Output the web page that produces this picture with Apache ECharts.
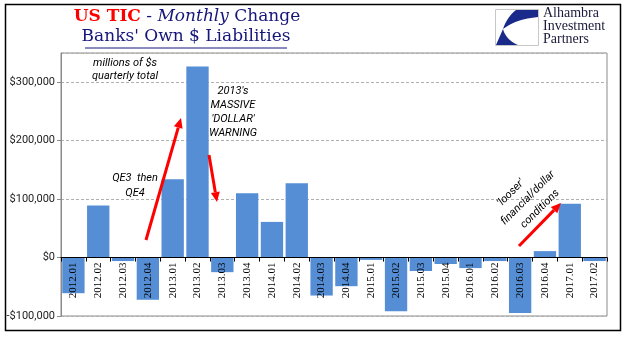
<!DOCTYPE html>
<html>
<head>
<meta charset="utf-8">
<script src="https://cdn.jsdelivr.net/npm/echarts@6/dist/echarts.min.js"></script>
<style>html,body{margin:0;padding:0;background:#fff}#c{width:641px;height:341px}</style>
</head>
<body>
<div id="c"></div>
<script>
const categories = ['2012.01','2012.02','2012.03','2012.04','2013.01','2013.02','2013.03','2013.04','2014.01','2014.02','2014.03','2014.04','2015.01','2015.02','2015.03','2015.04','2016.01','2016.02','2016.03','2016.04','2017.01','2017.02'];
const values = [-61000, 89000, -6000, -72000, 134000, 327000, -25000, 110000, 61000, 127000, -65000, -49000, -4000, -92000, -23000, -11000, -18000, -6000, -95000, 11000, 92000, -6000];
const yTicks = [-100000, 0, 100000, 200000, 300000];
const yMin = -100000, yMax = 350000;

const navy = '#16167a';
const gridTop = 53, gridBottom = 25, H = 341;
const plotH = H - gridTop - gridBottom;
const zeroOffset = -(0 - yMin) / (yMax - yMin) * plotH;

function arrow(x1, y1, x2, y2) {
  const dx = x2 - x1, dy = y2 - y1, L = Math.sqrt(dx*dx + dy*dy);
  const ux = dx / L, uy = dy / L, hl = 10, hw = 4.5;
  const bx = x2 - ux * hl, by = y2 - uy * hl;
  return [
    {type: 'line', shape: {x1: x1, y1: y1, x2: bx, y2: by}, style: {stroke: '#ff0000', lineWidth: 3}, z: 20},
    {type: 'polygon', shape: {points: [[x2, y2], [bx - uy * hw, by + ux * hw], [bx + uy * hw, by - ux * hw]]}, style: {fill: '#ff0000'}, z: 20}
  ];
}
function quad(p0, c, p1, n) {
  const pts = [];
  for (let i = 1; i <= n; i++) {
    const t = i / n, a = (1 - t) * (1 - t), b = 2 * (1 - t) * t, d = t * t;
    pts.push([a * p0[0] + b * c[0] + d * p1[0], a * p0[1] + b * c[1] + d * p1[1]]);
  }
  return pts;
}
const logoUpper = [[516, 10], [538, 10], [538, 17]].concat(quad([538, 17], [516, 19], [503, 29], 12), quad([503, 29], [507, 17], [516, 10], 8));
const logoLower = [[503, 29], [496, 45], [518, 45]].concat(quad([518, 45], [506, 40], [503, 29], 10));

const annFont = 'italic 11px Roboto, sans-serif';
function txt(x, y, s) {
  return {type: 'text', x: x, y: y, style: {text: s, font: annFont, fill: '#000', align: 'center', verticalAlign: 'middle'}, z: 20};
}
function rtxt(x, y, s) {
  return {type: 'text', x: x, y: y, rotation: Math.PI / 4, style: {text: s, font: annFont, fill: '#000', align: 'center', verticalAlign: 'middle'}, z: 20};
}

const chart = echarts.init(document.getElementById('c'), null, {renderer: 'canvas'});
chart.setOption({
  animation: false,
  backgroundColor: '#fff',
  grid: {left: 61, right: 34, top: gridTop, bottom: gridBottom, show: true, borderColor: '#8a8a8a', borderWidth: 1, containLabel: false, outerBoundsMode: 'none'},
  xAxis: {
    type: 'category', data: categories, z: 5, position: 'bottom', offset: zeroOffset,
    axisLine: {onZero: false, lineStyle: {color: '#000', width: 1}},
    axisTick: {show: true, interval: 0, length: 4, lineStyle: {color: '#000'}},
    axisLabel: {rotate: 90, interval: 0, margin: 5, fontFamily: 'Liberation Serif', fontSize: 11, color: '#000'}
  },
  yAxis: {
    type: 'value', min: yMin, max: yMax, interval: 100000,
    axisLine: {show: true, onZero: false, lineStyle: {color: '#8a8a8a'}},
    axisTick: {show: true, length: 4, lineStyle: {color: '#8a8a8a'}},
    axisLabel: {showMaxLabel: false, margin: 6, fontFamily: 'Roboto', fontSize: 11, color: '#222',
      formatter: function (v) { if (yTicks.indexOf(v) < 0) return ''; const s = '$' + Math.abs(v).toLocaleString('en-US'); return v < 0 ? '-' + s : s; }},
    splitLine: {show: true, lineStyle: {color: '#b0b0b0', type: [3, 2], width: 1}}
  },
  series: [{type: 'bar', data: values, barCategoryGap: '10%', itemStyle: {color: '#558ed5'}}],
  graphic: [
    {type: 'rect', shape: {x: 5.5, y: 4.5, width: 615, height: 326}, style: {fill: 'none', stroke: '#000', lineWidth: 1.5}, z: 30},
    {type: 'text', x: 187, y: 25, style: {
      text: '{r|US TIC}{n| - }{i|Monthly}{n| Change}', align: 'center', verticalAlign: 'bottom',
      rich: {
        r: {fontFamily: 'DejaVu Serif', fontSize: 17, fontWeight: 'bold', fill: '#ff0000'},
        n: {fontFamily: 'DejaVu Serif', fontSize: 17, fill: navy},
        i: {fontFamily: 'DejaVu Serif', fontSize: 17, fontStyle: 'italic', fill: navy}
      }}, z: 20},
    {type: 'text', x: 186, y: 45, style: {text: "Banks' Own $ Liabilities", font: '17px "DejaVu Serif"', fill: navy, align: 'center', verticalAlign: 'bottom'}, z: 20},
    {type: 'line', shape: {x1: 85, y1: 48, x2: 287, y2: 48}, style: {stroke: navy, lineWidth: 1}, z: 20},
    {type: 'rect', shape: {x: 495.5, y: 9.5, width: 43, height: 36}, style: {fill: '#fff', stroke: '#c8c8c8', lineWidth: 1}, z: 20},
    {type: 'polygon', shape: {points: logoUpper}, style: {fill: '#1a2a8a'}, z: 21},
    {type: 'polygon', shape: {points: logoLower}, style: {fill: '#1a2a8a'}, z: 21},
    {type: 'text', x: 543, y: 20, style: {text: 'Alhambra', font: '14px "Liberation Serif"', fill: '#1a1a3a', verticalAlign: 'bottom'}, z: 20},
    {type: 'text', x: 543, y: 33, style: {text: 'Investment', font: '14px "Liberation Serif"', fill: '#1a1a3a', verticalAlign: 'bottom'}, z: 20},
    {type: 'text', x: 543, y: 46, style: {text: 'Partners', font: '14px "Liberation Serif"', fill: '#1a1a3a', verticalAlign: 'bottom'}, z: 20},
    txt(125, 63, 'millions of $s'),
    txt(125, 76, 'quarterly total'),
    txt(233, 91, "2013's"),
    txt(233, 105, 'MASSIVE'),
    txt(233, 119, "'DOLLAR'"),
    txt(233, 133, 'WARNING'),
    txt(135, 178, 'QE3  then'),
    txt(135, 193, 'QE4'),
    rtxt(511, 193, "'looser'"),
    rtxt(528, 198, 'financial/dollar'),
    rtxt(540, 209, 'conditions')
  ].concat(arrow(146, 240, 181, 118), arrow(209, 155, 217, 202), arrow(519, 246, 561, 203))
});
</script>
</body>
</html>
